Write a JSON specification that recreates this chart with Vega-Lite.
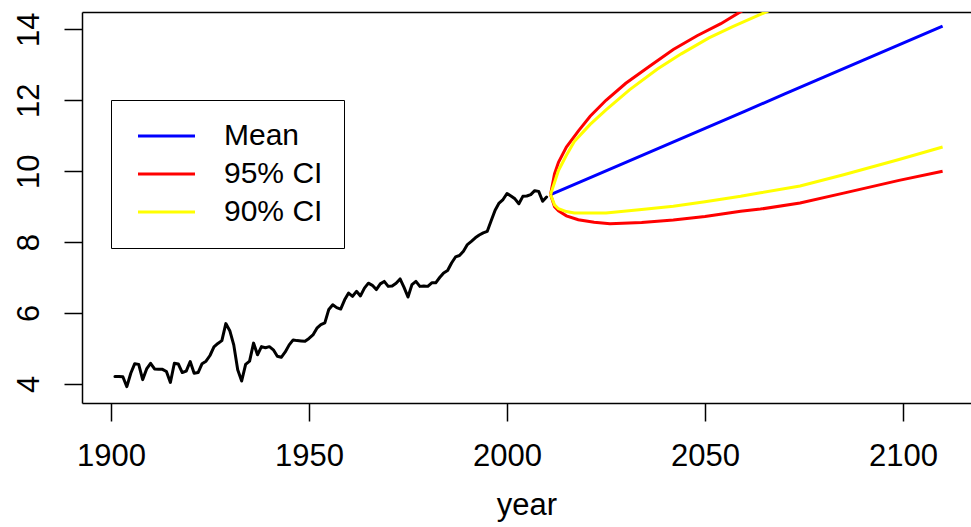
{
  "$schema": "https://vega.github.io/schema/vega-lite/v6.json",
  "width": 889,
  "height": 391,
  "autosize": {"type": "none"},
  "padding": {"left": 82, "top": 12, "right": 0, "bottom": 124},
  "background": "white",
  "config": {
    "view": {"stroke": null},
    "font": "Liberation Sans",
    "axis": {"grid": false, "labelFont": "Liberation Sans", "titleFont": "Liberation Sans"}
  },
  "data": {
    "values": [
      {"series": "history", "part": "obs", "year": 1901, "value": 4.21},
      {"series": "history", "part": "obs", "year": 1902, "value": 4.21},
      {"series": "history", "part": "obs", "year": 1903, "value": 4.2},
      {"series": "history", "part": "obs", "year": 1904, "value": 3.92},
      {"series": "history", "part": "obs", "year": 1905, "value": 4.3},
      {"series": "history", "part": "obs", "year": 1906, "value": 4.57},
      {"series": "history", "part": "obs", "year": 1907, "value": 4.55},
      {"series": "history", "part": "obs", "year": 1908, "value": 4.12},
      {"series": "history", "part": "obs", "year": 1909, "value": 4.42},
      {"series": "history", "part": "obs", "year": 1910, "value": 4.58},
      {"series": "history", "part": "obs", "year": 1911, "value": 4.42},
      {"series": "history", "part": "obs", "year": 1912, "value": 4.41},
      {"series": "history", "part": "obs", "year": 1913, "value": 4.41},
      {"series": "history", "part": "obs", "year": 1914, "value": 4.35},
      {"series": "history", "part": "obs", "year": 1915, "value": 4.04},
      {"series": "history", "part": "obs", "year": 1916, "value": 4.58},
      {"series": "history", "part": "obs", "year": 1917, "value": 4.56},
      {"series": "history", "part": "obs", "year": 1918, "value": 4.32},
      {"series": "history", "part": "obs", "year": 1919, "value": 4.36},
      {"series": "history", "part": "obs", "year": 1920, "value": 4.63},
      {"series": "history", "part": "obs", "year": 1921, "value": 4.3},
      {"series": "history", "part": "obs", "year": 1922, "value": 4.32},
      {"series": "history", "part": "obs", "year": 1923, "value": 4.57},
      {"series": "history", "part": "obs", "year": 1924, "value": 4.64},
      {"series": "history", "part": "obs", "year": 1925, "value": 4.8},
      {"series": "history", "part": "obs", "year": 1926, "value": 5.04},
      {"series": "history", "part": "obs", "year": 1927, "value": 5.14},
      {"series": "history", "part": "obs", "year": 1928, "value": 5.22},
      {"series": "history", "part": "obs", "year": 1929, "value": 5.7},
      {"series": "history", "part": "obs", "year": 1930, "value": 5.5},
      {"series": "history", "part": "obs", "year": 1931, "value": 5.1},
      {"series": "history", "part": "obs", "year": 1932, "value": 4.4},
      {"series": "history", "part": "obs", "year": 1933, "value": 4.08},
      {"series": "history", "part": "obs", "year": 1934, "value": 4.55},
      {"series": "history", "part": "obs", "year": 1935, "value": 4.64},
      {"series": "history", "part": "obs", "year": 1936, "value": 5.15},
      {"series": "history", "part": "obs", "year": 1937, "value": 4.82},
      {"series": "history", "part": "obs", "year": 1938, "value": 5.05},
      {"series": "history", "part": "obs", "year": 1939, "value": 5.02},
      {"series": "history", "part": "obs", "year": 1940, "value": 5.05},
      {"series": "history", "part": "obs", "year": 1941, "value": 4.96},
      {"series": "history", "part": "obs", "year": 1942, "value": 4.78},
      {"series": "history", "part": "obs", "year": 1943, "value": 4.75},
      {"series": "history", "part": "obs", "year": 1944, "value": 4.9},
      {"series": "history", "part": "obs", "year": 1945, "value": 5.1},
      {"series": "history", "part": "obs", "year": 1946, "value": 5.24},
      {"series": "history", "part": "obs", "year": 1947, "value": 5.22},
      {"series": "history", "part": "obs", "year": 1948, "value": 5.21},
      {"series": "history", "part": "obs", "year": 1949, "value": 5.2},
      {"series": "history", "part": "obs", "year": 1950, "value": 5.28},
      {"series": "history", "part": "obs", "year": 1951, "value": 5.38},
      {"series": "history", "part": "obs", "year": 1952, "value": 5.57},
      {"series": "history", "part": "obs", "year": 1953, "value": 5.67},
      {"series": "history", "part": "obs", "year": 1954, "value": 5.72},
      {"series": "history", "part": "obs", "year": 1955, "value": 6.1},
      {"series": "history", "part": "obs", "year": 1956, "value": 6.23},
      {"series": "history", "part": "obs", "year": 1957, "value": 6.15},
      {"series": "history", "part": "obs", "year": 1958, "value": 6.11},
      {"series": "history", "part": "obs", "year": 1959, "value": 6.37},
      {"series": "history", "part": "obs", "year": 1960, "value": 6.56},
      {"series": "history", "part": "obs", "year": 1961, "value": 6.47},
      {"series": "history", "part": "obs", "year": 1962, "value": 6.61},
      {"series": "history", "part": "obs", "year": 1963, "value": 6.48},
      {"series": "history", "part": "obs", "year": 1964, "value": 6.7},
      {"series": "history", "part": "obs", "year": 1965, "value": 6.84},
      {"series": "history", "part": "obs", "year": 1966, "value": 6.78},
      {"series": "history", "part": "obs", "year": 1967, "value": 6.66},
      {"series": "history", "part": "obs", "year": 1968, "value": 6.82},
      {"series": "history", "part": "obs", "year": 1969, "value": 6.89},
      {"series": "history", "part": "obs", "year": 1970, "value": 6.75},
      {"series": "history", "part": "obs", "year": 1971, "value": 6.76},
      {"series": "history", "part": "obs", "year": 1972, "value": 6.84},
      {"series": "history", "part": "obs", "year": 1973, "value": 6.96},
      {"series": "history", "part": "obs", "year": 1974, "value": 6.72},
      {"series": "history", "part": "obs", "year": 1975, "value": 6.45},
      {"series": "history", "part": "obs", "year": 1976, "value": 6.8},
      {"series": "history", "part": "obs", "year": 1977, "value": 6.89},
      {"series": "history", "part": "obs", "year": 1978, "value": 6.75},
      {"series": "history", "part": "obs", "year": 1979, "value": 6.76},
      {"series": "history", "part": "obs", "year": 1980, "value": 6.75},
      {"series": "history", "part": "obs", "year": 1981, "value": 6.85},
      {"series": "history", "part": "obs", "year": 1982, "value": 6.85},
      {"series": "history", "part": "obs", "year": 1983, "value": 7.0},
      {"series": "history", "part": "obs", "year": 1984, "value": 7.13},
      {"series": "history", "part": "obs", "year": 1985, "value": 7.2},
      {"series": "history", "part": "obs", "year": 1986, "value": 7.41},
      {"series": "history", "part": "obs", "year": 1987, "value": 7.58},
      {"series": "history", "part": "obs", "year": 1988, "value": 7.62},
      {"series": "history", "part": "obs", "year": 1989, "value": 7.74},
      {"series": "history", "part": "obs", "year": 1990, "value": 7.93},
      {"series": "history", "part": "obs", "year": 1991, "value": 8.02},
      {"series": "history", "part": "obs", "year": 1992, "value": 8.12},
      {"series": "history", "part": "obs", "year": 1993, "value": 8.2},
      {"series": "history", "part": "obs", "year": 1994, "value": 8.26},
      {"series": "history", "part": "obs", "year": 1995, "value": 8.3},
      {"series": "history", "part": "obs", "year": 1996, "value": 8.6},
      {"series": "history", "part": "obs", "year": 1997, "value": 8.9},
      {"series": "history", "part": "obs", "year": 1998, "value": 9.1},
      {"series": "history", "part": "obs", "year": 1999, "value": 9.2},
      {"series": "history", "part": "obs", "year": 2000, "value": 9.37},
      {"series": "history", "part": "obs", "year": 2001, "value": 9.3},
      {"series": "history", "part": "obs", "year": 2002, "value": 9.22},
      {"series": "history", "part": "obs", "year": 2003, "value": 9.08},
      {"series": "history", "part": "obs", "year": 2004, "value": 9.29},
      {"series": "history", "part": "obs", "year": 2005, "value": 9.3},
      {"series": "history", "part": "obs", "year": 2006, "value": 9.34},
      {"series": "history", "part": "obs", "year": 2007, "value": 9.45},
      {"series": "history", "part": "obs", "year": 2008, "value": 9.43},
      {"series": "history", "part": "obs", "year": 2009, "value": 9.15},
      {"series": "history", "part": "obs", "year": 2010, "value": 9.27},

      {"series": "Mean", "part": "mid", "year": 2011, "value": 9.34},
      {"series": "Mean", "part": "mid", "year": 2020, "value": 9.77},
      {"series": "Mean", "part": "mid", "year": 2030, "value": 10.25},
      {"series": "Mean", "part": "mid", "year": 2040, "value": 10.73},
      {"series": "Mean", "part": "mid", "year": 2050, "value": 11.21},
      {"series": "Mean", "part": "mid", "year": 2060, "value": 11.69},
      {"series": "Mean", "part": "mid", "year": 2070, "value": 12.17},
      {"series": "Mean", "part": "mid", "year": 2080, "value": 12.65},
      {"series": "Mean", "part": "mid", "year": 2090, "value": 13.13},
      {"series": "Mean", "part": "mid", "year": 2100, "value": 13.61},
      {"series": "Mean", "part": "mid", "year": 2110, "value": 14.09},

      {"series": "95% CI", "part": "upper", "year": 2011, "value": 9.34},
      {"series": "95% CI", "part": "upper", "year": 2012, "value": 9.92},
      {"series": "95% CI", "part": "upper", "year": 2013, "value": 10.25},
      {"series": "95% CI", "part": "upper", "year": 2015, "value": 10.68},
      {"series": "95% CI", "part": "upper", "year": 2018, "value": 11.13},
      {"series": "95% CI", "part": "upper", "year": 2021, "value": 11.55},
      {"series": "95% CI", "part": "upper", "year": 2025, "value": 12.0},
      {"series": "95% CI", "part": "upper", "year": 2030, "value": 12.48},
      {"series": "95% CI", "part": "upper", "year": 2036, "value": 12.96},
      {"series": "95% CI", "part": "upper", "year": 2042, "value": 13.43},
      {"series": "95% CI", "part": "upper", "year": 2048, "value": 13.82},
      {"series": "95% CI", "part": "upper", "year": 2054, "value": 14.16},
      {"series": "95% CI", "part": "upper", "year": 2059, "value": 14.5},
      {"series": "95% CI", "part": "upper", "year": 2065, "value": 14.85},
      {"series": "95% CI", "part": "lower", "year": 2011, "value": 9.34},
      {"series": "95% CI", "part": "lower", "year": 2012, "value": 9.0},
      {"series": "95% CI", "part": "lower", "year": 2013, "value": 8.88},
      {"series": "95% CI", "part": "lower", "year": 2015, "value": 8.74},
      {"series": "95% CI", "part": "lower", "year": 2018, "value": 8.63},
      {"series": "95% CI", "part": "lower", "year": 2022, "value": 8.56},
      {"series": "95% CI", "part": "lower", "year": 2026, "value": 8.52},
      {"series": "95% CI", "part": "lower", "year": 2034, "value": 8.55},
      {"series": "95% CI", "part": "lower", "year": 2042, "value": 8.62},
      {"series": "95% CI", "part": "lower", "year": 2050, "value": 8.72},
      {"series": "95% CI", "part": "lower", "year": 2059, "value": 8.87},
      {"series": "95% CI", "part": "lower", "year": 2064, "value": 8.93},
      {"series": "95% CI", "part": "lower", "year": 2074, "value": 9.1},
      {"series": "95% CI", "part": "lower", "year": 2085, "value": 9.38},
      {"series": "95% CI", "part": "lower", "year": 2099, "value": 9.74},
      {"series": "95% CI", "part": "lower", "year": 2110, "value": 10.0},

      {"series": "90% CI", "part": "upper", "year": 2011, "value": 9.34},
      {"series": "90% CI", "part": "upper", "year": 2012, "value": 9.68},
      {"series": "90% CI", "part": "upper", "year": 2013, "value": 10.02},
      {"series": "90% CI", "part": "upper", "year": 2015, "value": 10.45},
      {"series": "90% CI", "part": "upper", "year": 2017, "value": 10.84},
      {"series": "90% CI", "part": "upper", "year": 2021, "value": 11.32},
      {"series": "90% CI", "part": "upper", "year": 2025, "value": 11.73},
      {"series": "90% CI", "part": "upper", "year": 2031, "value": 12.3},
      {"series": "90% CI", "part": "upper", "year": 2038, "value": 12.88},
      {"series": "90% CI", "part": "upper", "year": 2044, "value": 13.31},
      {"series": "90% CI", "part": "upper", "year": 2051, "value": 13.76},
      {"series": "90% CI", "part": "upper", "year": 2057, "value": 14.08},
      {"series": "90% CI", "part": "upper", "year": 2064, "value": 14.42},
      {"series": "90% CI", "part": "upper", "year": 2068, "value": 14.62},
      {"series": "90% CI", "part": "lower", "year": 2011, "value": 9.34},
      {"series": "90% CI", "part": "lower", "year": 2012, "value": 9.05},
      {"series": "90% CI", "part": "lower", "year": 2013, "value": 8.94},
      {"series": "90% CI", "part": "lower", "year": 2015, "value": 8.86},
      {"series": "90% CI", "part": "lower", "year": 2017, "value": 8.82},
      {"series": "90% CI", "part": "lower", "year": 2025, "value": 8.82},
      {"series": "90% CI", "part": "lower", "year": 2034, "value": 8.92},
      {"series": "90% CI", "part": "lower", "year": 2042, "value": 9.01},
      {"series": "90% CI", "part": "lower", "year": 2050, "value": 9.14},
      {"series": "90% CI", "part": "lower", "year": 2059, "value": 9.29},
      {"series": "90% CI", "part": "lower", "year": 2064, "value": 9.39},
      {"series": "90% CI", "part": "lower", "year": 2074, "value": 9.58},
      {"series": "90% CI", "part": "lower", "year": 2085, "value": 9.9},
      {"series": "90% CI", "part": "lower", "year": 2099, "value": 10.33},
      {"series": "90% CI", "part": "lower", "year": 2110, "value": 10.68}
    ]
  },
  "resolve": {"axis": {"x": "independent"}},
  "layer": [
    {
      "transform": [{"filter": "datum.series === 'history'"}],
      "mark": {"type": "line", "color": "black", "strokeWidth": 3, "strokeJoin": "round", "strokeCap": "round", "clip": true},
      "encoding": {
        "x": {
          "field": "year", "type": "quantitative",
          "scale": {"domain": [1892.68, 2117.17], "nice": false, "zero": false},
          "axis": {
            "orient": "bottom", "values": [1900, 1950, 2000, 2050, 2100], "format": "d",
            "labelFontSize": 31, "labelColor": "black", "labelBaseline": "alphabetic", "labelPadding": 44,
            "labelFlush": false, "labelOverlap": false,
            "tickSize": 18, "tickWidth": 1.5, "tickColor": "black",
            "domainColor": "black", "domainWidth": 1.5,
            "title": "year", "titleFontSize": 31, "titleFontWeight": "normal", "titleColor": "black",
            "titleBaseline": "alphabetic", "titleY": 111
          }
        },
        "y": {
          "field": "value", "type": "quantitative",
          "scale": {"domain": [3.46, 14.49], "nice": false, "zero": false},
          "axis": {
            "values": [4, 6, 8, 10, 12, 14],
            "labelFontSize": 31, "labelColor": "black", "labelAngle": 270, "labelAlign": "center",
            "labelBaseline": "alphabetic", "labelPadding": 26, "labelOverlap": false,
            "tickSize": 18, "tickWidth": 1.5, "tickColor": "black",
            "domainColor": "black", "domainWidth": 1.5, "title": null
          }
        }
      }
    },
    {
      "encoding": {
        "x": {
          "field": "year", "type": "quantitative",
          "axis": {"orient": "top", "labels": false, "ticks": false, "title": null, "domainColor": "black", "domainWidth": 1.5}
        },
        "y": {"field": "value", "type": "quantitative"},
        "color": {
          "field": "series", "type": "nominal",
          "scale": {"domain": ["Mean", "95% CI", "90% CI"], "range": ["#0000ff", "#ff0000", "#ffff00"]},
          "legend": {
            "title": null, "orient": "none", "legendX": 29, "legendY": 88, "direction": "vertical",
            "strokeColor": "black", "fillColor": "white", "padding": 21,
            "symbolType": "M-1,0H4.7", "symbolSize": 400, "symbolStrokeWidth": 3,
            "labelFontSize": 30, "labelFont": "Liberation Sans", "labelColor": "black",
            "labelOffset": 61, "rowPadding": 8, "symbolOffset": 1, "labelLimit": 400
          }
        },
        "detail": {"field": "part"}
      },
      "layer": [
        {"transform": [{"filter": "datum.series === 'Mean'"}], "mark": {"type": "line", "strokeWidth": 3, "clip": true}},
        {"transform": [{"filter": "datum.series === '95% CI'"}], "mark": {"type": "line", "strokeWidth": 3, "clip": true}},
        {"transform": [{"filter": "datum.series === '90% CI'"}], "mark": {"type": "line", "strokeWidth": 3, "clip": true}}
      ]
    }
  ]
}
